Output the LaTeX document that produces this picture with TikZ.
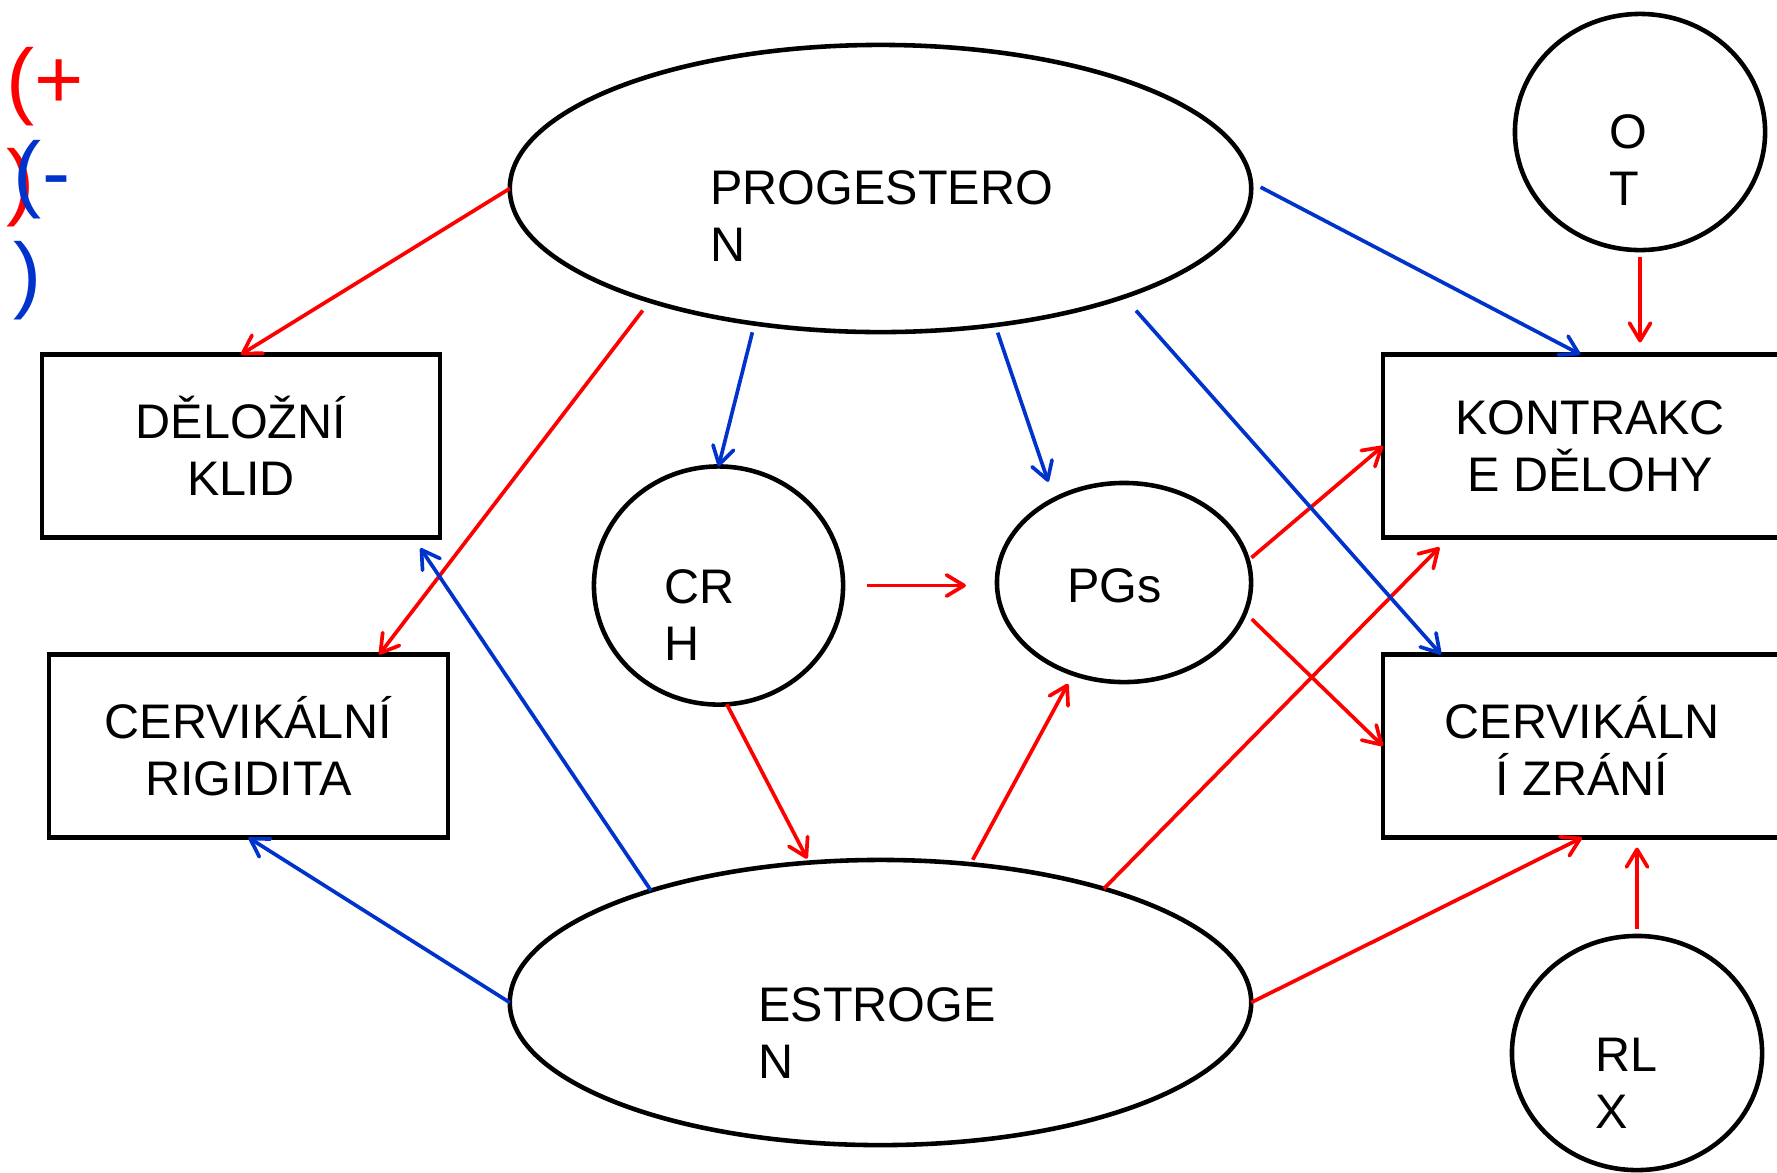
\documentclass[tikz,border=0pt]{standalone}
\usepackage{fontspec}
\setmainfont{Liberation Sans}
\usepackage{tikz}
\usetikzlibrary{arrows.meta,shapes.geometric,calc}
\definecolor{plusred}{RGB}{255,0,0}
\definecolor{minusblue}{RGB}{0,51,204}

\begin{document}
\begin{tikzpicture}[x=0.01cm, y=-0.01cm,
  every node/.style={inner sep=0pt, outer sep=0pt, font=\fontsize{13.8}{16.2}\selectfont},
  ell/.style={draw, ellipse, line width=1.3pt},
  box/.style={draw, rectangle, line width=1.3pt, align=center, minimum height=1.83cm},
  lbl/.style={anchor=north west, align=left},
  legend/.style={lbl, font=\fontsize{24}{28.7}\selectfont},
  stim/.style={draw=plusred, line width=1.05pt, -{Straight Barb[length=5pt,width=6pt,round]}},
  inhib/.style={stim, draw=minusblue}]
\useasboundingbox (0,0) rectangle (1777,1172);

% legend
\node[legend, text=plusred] (plus) at (6,47) {(+\\)};
\node[legend, text=minusblue] (minus) at (14,140) {(-\\)};

% hormones
\node[ell, minimum width=7.41cm, minimum height=2.87cm] (prog) at (880.5,188.5) {};
\node[lbl] (prog-t) at ($(prog.center)+(-170,-18)$) {PROGESTERO\\N};
\node[ell, minimum width=7.41cm, minimum height=2.85cm] (est) at (880.5,1002.5) {};
\node[lbl] (est-t) at ($(est.center)+(-122,-15)$) {ESTROGE\\N};
\node[ell, minimum width=2.49cm, minimum height=2.38cm] (crh) at (718.5,585.5) {};
\node[lbl] (crh-t) at ($(crh.center)+(-54,-16)$) {CR\\H};
\node[ell, minimum width=2.54cm, minimum height=1.99cm] (pgs) at (1124,582.5) {};
\node[lbl] (pgs-t) at ($(pgs.center)+(-57,-14)$) {PGs};
\node[ell, minimum width=2.50cm, minimum height=2.36cm] (ot) at (1640,132) {};
\node[lbl] (ot-t) at ($(ot.center)+(-31,-17.5)$) {O\\T};
\node[ell, minimum width=2.50cm, minimum height=2.34cm] (rlx) at (1637,1053) {};
\node[lbl] (rlx-t) at ($(rlx.center)+(-42,-14.5)$) {RL\\X};

% effects
\node[box, minimum width=3.98cm] (klid) at (241,446) {DĚLOŽNÍ\\KLID};
\node[box, minimum width=3.99cm] (rig) at (248.5,746) {CERVIKÁLNÍ\\RIGIDITA};
\node[box, minimum width=4.14cm] (kon) at (1590,446) {KONTRAKC\\E DĚLOHY};
\node[box, minimum width=3.98cm] (zra) at (1582,746) {CERVIKÁLN\\Í ZRÁNÍ};

% stimulation
\draw[stim] (prog.west) -- (klid.north);
\draw[stim, shorten <=0.12cm] (prog.206.7) -- (rig.35.3);
\draw[stim, shorten <=0.24cm, shorten >=0.31cm] (crh.east) -- (crh.east -| pgs.west);
\draw[stim, shorten >=0.044cm] (crh.-86.9) -- (est.117.5);
\draw[stim, shorten <=0.05cm, shorten >=0.113cm] (est.57) -- (pgs.241.6);
\draw[stim, shorten >=0.137cm] (est.27.5) -- (kon.213.2);
\draw[stim] (est.east) -- (zra.south);
\draw[stim, shorten <=0.046cm] (pgs.10) -- (kon.west);
\draw[stim, shorten <=0.093cm] (pgs.-14.65) -- (zra.west);
\draw[stim, shorten <=0.07cm, shorten >=0.12cm] (ot.south) -- (ot.south |- kon.north);
\draw[stim, shorten <=0.07cm, shorten >=0.10cm] (rlx.north) -- (rlx.north |- zra.south);

% inhibition
\draw[inhib, shorten <=0.11cm] (prog.1) -- (kon.96.3);
\draw[inhib, shorten <=0.09cm] (prog.227.1) -- (crh.north);
\draw[inhib, shorten <=0.08cm, shorten >=0.185cm] (prog.-50.2) -- (pgs.130.1);
\draw[inhib, shorten <=0.184cm] (prog.-24.6) -- (zra.147);
\draw[inhib, shorten >=0.129cm] (est.154.7) -- (klid.-28.6);
\draw[inhib] (est.west) -- (rig.south);
\end{tikzpicture}
\end{document}
